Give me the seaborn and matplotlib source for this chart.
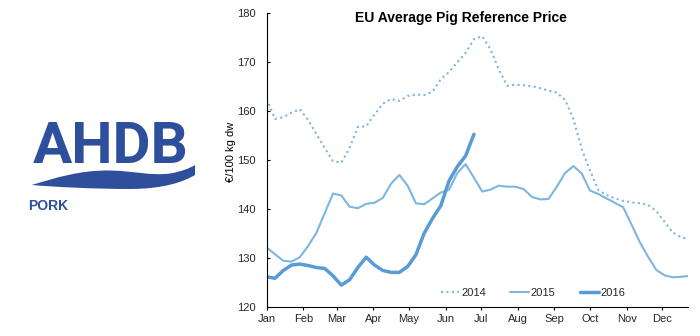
import numpy as np
import pandas as pd
import matplotlib
matplotlib.use("Agg")
import matplotlib.pyplot as plt
import seaborn as sns
from matplotlib.path import Path
from matplotlib.patches import PathPatch

# Weekly EU average pig reference price (EUR/100 kg dw)
week = np.arange(52)
price_2014 = [162.4, 158.3, 158.7, 159.6, 160.3, 158.1, 155.2, 152.4, 149.7, 149.4,
              152.4, 156.7, 156.8, 159.2, 161.4, 162.4, 162.0, 163.0, 163.3, 163.2,
              163.9, 166.4, 167.9, 169.9, 171.8, 174.6, 175.2, 172.5, 168.4, 165.1,
              165.3, 165.2, 165.0, 164.6, 164.1, 163.7, 162.2, 158.3, 152.2, 147.8,
              143.8, 142.8, 142.1, 141.6, 141.3, 141.1, 140.8, 139.5, 137.3, 135.1,
              134.2, 133.7]
price_2015 = [132.1, 130.7, 129.4, 129.2, 130.1, 132.4, 135.1, 139.1, 143.1, 142.7,
              140.4, 140.1, 141.0, 141.2, 142.2, 145.1, 146.9, 144.7, 141.1, 140.9,
              142.1, 143.3, 143.9, 147.3, 149.1, 146.3, 143.5, 143.9, 144.7, 144.5,
              144.5, 144.0, 142.4, 141.9, 142.0, 144.5, 147.3, 148.7, 147.2, 143.7,
              143.0, 142.1, 141.2, 140.3, 136.8, 133.2, 130.2, 127.5, 126.4, 126.0,
              126.1, 126.3]
price_2016 = [126.1, 125.8, 127.4, 128.5, 128.7, 128.4, 128.0, 127.8, 126.3, 124.4,
              125.5, 128.0, 130.1, 128.5, 127.4, 127.0, 127.0, 128.2, 130.6, 135.0,
              138.0, 140.6, 145.7, 148.6, 150.8, 155.2]

month_labels = ["Jan", "Feb", "Mar", "Apr", "May", "Jun",
                "Jul", "Aug", "Sep", "Oct", "Nov", "Dec"]
month_start_day = [0, 31, 59, 90, 120, 151, 181, 212, 243, 273, 304, 334]
y_ticks = [120, 130, 140, 150, 160, 170, 180]

sns.set_theme(style="white")
plt.rcParams["font.family"] = ["Liberation Sans", "DejaVu Sans"]

W, H = 700, 336
fig = plt.figure(figsize=(W / 100, H / 100), dpi=100)

LIGHT = "#7DB5E3"
DARK = "#5B9BD5"
NAVY = "#2E4F9C"

ax = fig.add_axes([266.7 / W, 1 - 306.7 / H, (688.3 - 266.7) / W, (306.7 - 12.7) / H])

df14 = pd.DataFrame({"day": week[:len(price_2014)] * 7, "price": price_2014})
df15 = pd.DataFrame({"day": week[:len(price_2015)] * 7, "price": price_2015})
df16 = pd.DataFrame({"day": week[:len(price_2016)] * 7, "price": price_2016})

sns.lineplot(data=df14, x="day", y="price", ax=ax, color=LIGHT, linewidth=1.5,
             linestyle=(0, (1, 1.6)), label="2014")
sns.lineplot(data=df15, x="day", y="price", ax=ax, color=LIGHT, linewidth=1.5,
             label="2015")
sns.lineplot(data=df16, x="day", y="price", ax=ax, color=DARK, linewidth=2.5,
             label="2016")

ax.set_xlim(0, 356)
ax.set_ylim(120, 180)
ax.set_xticks(month_start_day)
ax.set_xticklabels(month_labels)
ax.set_yticks(y_ticks)
ax.set_xlabel("")
ax.set_ylabel("")
for side in ["top", "right"]:
    ax.spines[side].set_visible(False)
for side in ["left", "bottom"]:
    ax.spines[side].set_color("black")
    ax.spines[side].set_linewidth(0.8)
ax.tick_params(axis="y", direction="in", length=2.5, width=0.8, color="black",
               labelsize=8, pad=8, left=True)
ax.tick_params(axis="x", direction="out", length=2.5, width=0.8, color="black",
               labelsize=8, pad=3, bottom=True)
ax.grid(False)

leg = ax.legend(loc="center", bbox_to_anchor=(533 / W, 1 - 292.7 / H),
                bbox_transform=fig.transFigure, ncol=3, frameon=False,
                fontsize=8, handlelength=1.7, handletextpad=0.15,
                columnspacing=2.2, borderpad=0)

fig.text(461 / W, 1 - 18 / H, "EU Average Pig Reference Price", ha="center",
         va="center", fontsize=10, fontweight="bold", color="black")
fig.text(231 / W, 1 - 152 / H, "€/100 kg dw", rotation=90, ha="center",
         va="center", fontsize=8, color="black")

# AHDB Pork logo, drawn in pixel coordinates
lax = fig.add_axes([0, 0, 1, 1], zorder=-1)
lax.set_xlim(0, W)
lax.set_ylim(H, 0)
lax.axis("off")

lax.text(110.5, 163.3, "AHDB", ha="center", va="baseline", fontsize=42,
         fontweight="bold", family=["Roboto", "Liberation Sans"], color=NAVY)

verts = [
    (31.7, 185.0),
    (55, 178), (80, 170), (110, 170.5),
    (135, 171), (150, 176), (170, 173.5),
    (182, 171.5), (190, 168), (195, 165),
    (195, 175),
    (185, 181), (165, 189), (130, 189),
    (95, 189), (55, 187), (31.7, 185.0),
    (31.7, 185.0),
]
codes = [Path.MOVETO] + [Path.CURVE4] * 9 + [Path.LINETO] + [Path.CURVE4] * 6 + [Path.CLOSEPOLY]
lax.add_patch(PathPatch(Path(verts, codes), facecolor=NAVY, edgecolor="none"))

lax.text(28.5, 210, "PORK", ha="left", va="baseline", fontsize=10,
         fontweight="bold", color=NAVY)

fig.savefig("out.png", dpi=100)
